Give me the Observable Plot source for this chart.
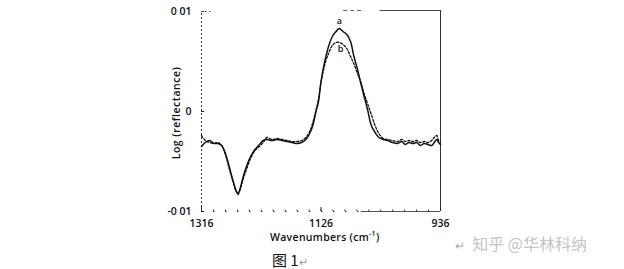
<!DOCTYPE html>
<html>
<head>
<meta charset="utf-8">
<script src="https://cdn.jsdelivr.net/npm/d3@7"></script>
<script src="https://cdn.jsdelivr.net/npm/@observablehq/plot@0.6"></script>
<style>
  html, body { margin: 0; padding: 0; background: #fff; }
  #wrap { position: relative; width: 624px; height: 269px; overflow: hidden; background: #fff; }
  .ov { position: absolute; white-space: nowrap; font-family: "Open Sans", "DejaVu Sans", sans-serif; color: #111; }
</style>
</head>
<body>
<div id="wrap"></div>
<script>
// Wavenumber sample positions (cm^-1)
const wavenumbers = [1316, 1310, 1303, 1296, 1290, 1284, 1278, 1272, 1266, 1261, 1258, 1255, 1250, 1244, 1238, 1231, 1224, 1218, 1212, 1204, 1196, 1188, 1180, 1172, 1164, 1157, 1150, 1144, 1139, 1134, 1130, 1126, 1120, 1114, 1108, 1102, 1097, 1091, 1085, 1079, 1074, 1068, 1063, 1057, 1052, 1046, 1040, 1034, 1027, 1020, 1012, 1004, 998, 992, 986, 980, 974, 968, 962, 956, 950, 946, 942, 939, 936];
// Curve a (solid)
const seriesA = [-0.0035, -0.0031, -0.0029, -0.0032, -0.0032, -0.0034, -0.0042, -0.0055, -0.0069, -0.0079, -0.0082, -0.0078, -0.0066, -0.0054, -0.0045, -0.0038, -0.0033, -0.0029, -0.0028, -0.0029, -0.0028, -0.0029, -0.0030, -0.0031, -0.0032, -0.0031, -0.0028, -0.0022, -0.0014, 0.0000, 0.0010, 0.0030, 0.0050, 0.0065, 0.0075, 0.0080, 0.0083, 0.0080, 0.0077, 0.0070, 0.0056, 0.0042, 0.0029, 0.0014, 0.0002, -0.0014, -0.0021, -0.0026, -0.0028, -0.0029, -0.0031, -0.0032, -0.0030, -0.0033, -0.0031, -0.0032, -0.0031, -0.0034, -0.0032, -0.0033, -0.0034, -0.0031, -0.0028, -0.0031, -0.0033];
// Curve b (dashed)
const seriesB = [-0.0024, -0.0029, -0.0031, -0.0032, -0.0031, -0.0034, -0.0043, -0.0057, -0.0070, -0.0080, -0.0083, -0.0079, -0.0068, -0.0057, -0.0047, -0.0039, -0.0035, -0.0031, -0.0026, -0.0028, -0.0027, -0.0028, -0.0029, -0.0030, -0.0030, -0.0029, -0.0026, -0.0020, -0.0011, 0.0001, 0.0012, 0.0029, 0.0047, 0.0058, 0.0066, 0.0069, 0.0069, 0.0067, 0.0063, 0.0055, 0.0048, 0.0038, 0.0030, 0.0017, 0.0008, -0.0003, -0.0014, -0.0022, -0.0027, -0.0028, -0.0029, -0.0030, -0.0028, -0.0030, -0.0029, -0.0030, -0.0029, -0.0031, -0.0030, -0.0031, -0.0029, -0.0026, -0.0024, -0.0029, -0.0030];
// Axis ticks
const xTicks = [1316, 1126, 936];
const yTicks = [0.01, 0, -0.01];
const yTickLabels = ["0 01", "0", "-0 01"];
// Curve labels
const curveLabels = [
  {name: "a", wn: 1097, v: 0.0090},
  {name: "b", wn: 1095, v: 0.0062}
];

const dataA = wavenumbers.map((w, i) => ({w, v: seriesA[i]}));
const dataB = wavenumbers.map((w, i) => ({w, v: seriesB[i]}));
const minorX = d3.range(1316, 935, -19);

const chart = Plot.plot({
  width: 624,
  height: 269,
  marginLeft: 201,
  marginRight: 184,
  marginTop: 11,
  marginBottom: 58,
  style: {background: "#fff", fontFamily: "'Open Sans', 'DejaVu Sans', sans-serif", color: "#111"},
  x: {domain: [1316, 936]},
  y: {domain: [-0.01, 0.01]},
  marks: [
    Plot.axisX({ticks: xTicks, tickSize: 0, tickPadding: 8, label: null, fontSize: 10.5, fontWeight: 600, tickFormat: d => String(d)}),
    Plot.axisY({ticks: yTicks, tickSize: 0, tickPadding: 10, label: null, fontSize: 10.5, fontWeight: 600, tickFormat: d => yTickLabels[yTicks.indexOf(d)]}),
    // frame (scanned, partly dotted)
    Plot.ruleX([1316], {y1: -0.01, y2: 0.01, stroke: "#333", strokeWidth: 1, strokeDasharray: "2,2"}),
    Plot.ruleX([936], {y1: -0.01, y2: 0.0101, stroke: "#333", strokeWidth: 1}),
    Plot.ruleY([-0.01], {x1: 1316, x2: 1062, stroke: "#333", strokeWidth: 1.2, strokeDasharray: "1.5,10.5"}),
    Plot.ruleY([-0.01], {x1: 1062, x2: 936, stroke: "#555", strokeWidth: 1}),
    Plot.ruleX(minorX, {y1: -0.01, y2: -0.00985, stroke: "#333", strokeWidth: 1}),
    Plot.ruleX(xTicks, {y1: -0.01, y2: -0.0096, stroke: "#222", strokeWidth: 1}),
    Plot.ruleY(yTicks, {x1: 1316, x2: 1311, stroke: "#222", strokeWidth: 1}),
    Plot.ruleY([0.01], {x1: 1316, x2: 1298, stroke: "#444", strokeWidth: 1, strokeDasharray: "1.5,2.5"}),
    Plot.ruleY([0.0101], {x1: 1090, x2: 1058, stroke: "#666", strokeWidth: 1, strokeDasharray: "4,3"}),
    Plot.ruleY([0.0101], {x1: 1032, x2: 936, stroke: "#444", strokeWidth: 1}),
    // curves
    Plot.line(dataB, {x: "w", y: "v", stroke: "#111", strokeWidth: 1.3, strokeDasharray: "2.2,1.8", curve: "catmull-rom"}),
    Plot.line(dataA, {x: "w", y: "v", stroke: "#111", strokeWidth: 1.5, curve: "catmull-rom"}),
    Plot.text(curveLabels, {x: "wn", y: "v", text: "name", fontSize: 9, fontWeight: 600, fill: "#111"})
  ]
});
const wrap = document.getElementById("wrap");
wrap.appendChild(chart);

function overlay(html, css) {
  const d = document.createElement("div");
  d.className = "ov";
  d.innerHTML = html;
  Object.assign(d.style, css);
  wrap.appendChild(d);
  return d;
}
overlay("Wavenumbers (cm<sup style='font-size:7px'>-1</sup>)", {left: "270px", top: "229px", fontSize: "10.5px", fontWeight: "600", letterSpacing: "0.3px"});
overlay("Log (reflectance)", {left: "176px", top: "113px", fontSize: "10.5px", fontWeight: "600", letterSpacing: "0.5px", transform: "translate(-50%,-50%) rotate(-90deg)"});
overlay("图 1<span style='color:#999;font-size:11px'>↵</span>", {left: "272px", top: "249px", fontSize: "15px", fontFamily: "'Noto Sans CJK SC', sans-serif"});
overlay("<span style='font-size:12px;color:#aaa'>↵</span>&nbsp;&nbsp;知乎 @华林科纳", {left: "455px", top: "231px", fontSize: "16px", color: "#c4c4c4", fontFamily: "'Noto Sans CJK SC', sans-serif"});
</script>
</body>
</html>
